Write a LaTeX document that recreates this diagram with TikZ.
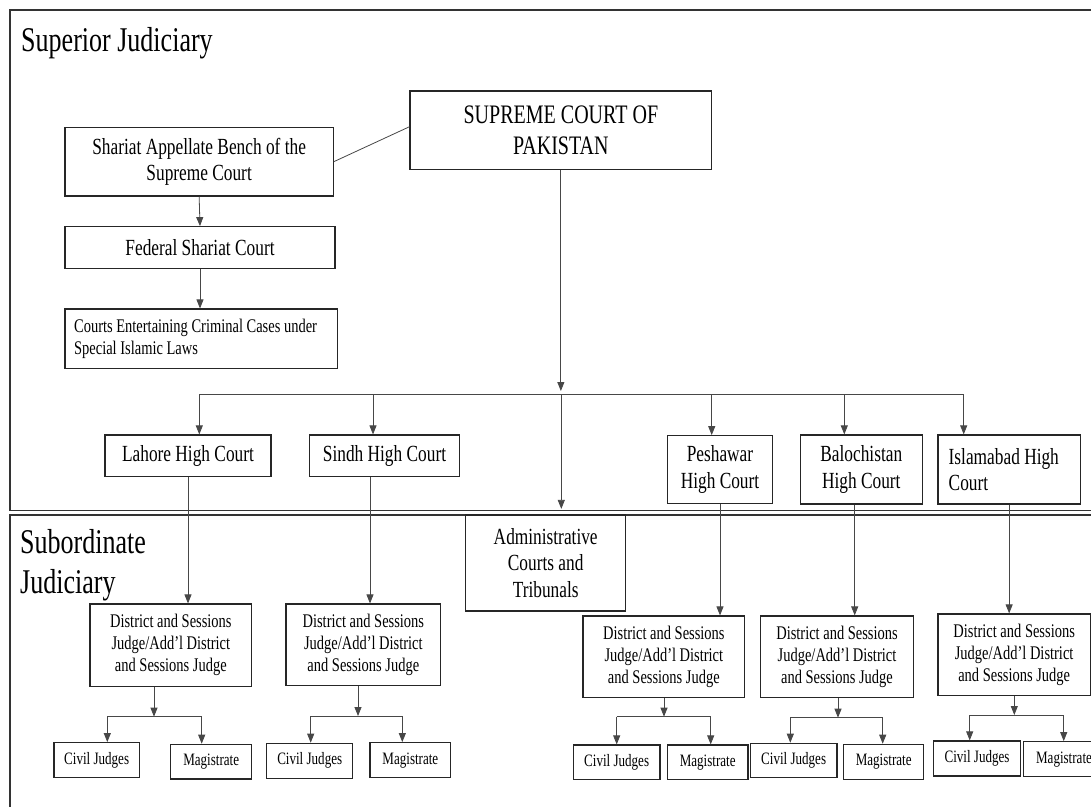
\documentclass[tikz,border=0pt]{standalone}
\usepackage{fontspec}
\setmainfont[FakeStretch=0.75]{Liberation Serif}
\usetikzlibrary{arrows.meta,positioning}

\begin{document}
\begin{tikzpicture}
  [x=1pt,y=-1pt,
  court/.style={rectangle,draw=black!85,line width=1.2pt,inner sep=0pt,align=center},
  ttl/.style={font=\fontsize{34.7pt}{40.3pt}\selectfont},
  lvla/.style={font=\fontsize{26.7pt}{31.7pt}\selectfont},
  lvlb/.style={font=\fontsize{23.1pt}{26.2pt}\selectfont},
  lvlc/.style={font=\fontsize{19.3pt}{22pt}\selectfont},
  lvld/.style={font=\fontsize{17.4pt}{19pt}\selectfont},
  conn/.style={draw=black!72,line width=0.8pt,-{Triangle[length=9pt,width=7pt]}},
  link/.style={draw=black!72,line width=0.8pt},
  frame/.style={draw=black!80,line width=1.5pt}]

  \fill[white] (0,0) rectangle (1091,806);
  \useasboundingbox (0,0) rectangle (1091,806);
  \clip (0,0) rectangle (1091,806);

  \draw[frame] (10,10) rectangle (1098,510.7);
  \draw[frame] (10,515) rectangle (1098,814);
  \node[ttl,anchor=base west,inner sep=0pt] (supj) at (21,51.7) {Superior Judiciary};
  \node[ttl,anchor=base west,inner sep=0pt,align=left] (subj) at (20,593.3) {Subordinate\\Judiciary};

  \node[court,lvla,minimum width=301.7pt,minimum height=78.3pt] (sc) at (560.85,130.15) {SUPREME COURT OF\\PAKISTAN};
  \node[court,lvlb,minimum width=268.3pt,minimum height=68.7pt] (sab) at (199.15,161.65) {Shariat Appellate Bench of the\\Supreme Court};
  \node[court,lvlb,minimum width=270pt,minimum height=41.6pt] (fsc) at (200,247.5) {Federal Shariat Court};
  \node[court,lvlc,minimum width=272.3pt,minimum height=59.3pt,text width=254pt,align=flush left] (cec) at (201.15,338.65) {Courts Entertaining Criminal Cases under\\Special Islamic Laws};

  \node[court,lvlb,minimum width=166pt,minimum height=41.7pt] (lhc) at (188,455.85) {Lahore High Court};
  \node[court,lvlb,minimum width=150.4pt,minimum height=41.7pt] (shc) at (384.5,455.85) {Sindh High Court};
  \node[court,lvlb,minimum width=105.4pt,minimum height=67.6pt] (phc) at (720,469.5) {Peshawar\\High Court};
  \node[court,lvlb,minimum width=122pt,minimum height=69pt] (bhc) at (861.3,469.5) {Balochistan\\High Court};
  \node[court,lvlb,minimum width=142.3pt,minimum height=69pt,text width=120.9pt,align=flush left] (ihc) at (1009.15,469.5) {Islamabad High\\Court};
  \node[court,lvlb,minimum width=160pt,minimum height=96pt] (atc) at (545.7,563) {Administrative\\Courts and\\Tribunals};

  \node[court,lvlc,minimum width=161.7pt,minimum height=82.7pt] (ldsj) at (170.85,645.35) {District and Sessions\\Judge/Add'l District\\and Sessions Judge};
  \node[court,lvlc,minimum width=154.7pt,minimum height=81.7pt] (sdsj) at (363.35,644.85) {District and Sessions\\Judge/Add'l District\\and Sessions Judge};
  \node[court,lvlc,minimum width=161.7pt,minimum height=81.7pt] (pdsj) at (663.85,656.85) {District and Sessions\\Judge/Add'l District\\and Sessions Judge};
  \node[court,lvlc,minimum width=153.4pt,minimum height=81.7pt] (bdsj) at (837,656.85) {District and Sessions\\Judge/Add'l District\\and Sessions Judge};
  \node[court,lvlc,minimum width=152.3pt,minimum height=81.7pt] (idsj) at (1014.15,654.85) {District and Sessions\\Judge/Add'l District\\and Sessions Judge};

  \node[court,lvld,minimum width=85.3pt,minimum height=34.6pt] (cj1) at (96.65,760) {Civil Judges};
  \node[court,lvld,minimum width=81pt,minimum height=34.7pt] (mg1) at (211.2,761.65) {Magistrate};
  \node[court,lvld,minimum width=86pt,minimum height=35pt] (cj2) at (309.7,760.8) {Civil Judges};
  \node[court,lvld,minimum width=80.7pt,minimum height=35pt] (mg2) at (410.35,760.2) {Magistrate};
  \node[court,lvld,minimum width=86.7pt,minimum height=34.3pt] (cj3) at (616.65,762.15) {Civil Judges};
  \node[court,lvld,minimum width=80.7pt,minimum height=34.3pt] (mg3) at (707.65,762.15) {Magistrate};
  \node[court,lvld,minimum width=86.7pt,minimum height=34.4pt] (cj4) at (793.65,760.5) {Civil Judges};
  \node[court,lvld,minimum width=80pt,minimum height=35pt] (mg4) at (883.7,761.8) {Magistrate};
  \node[court,lvld,minimum width=86.6pt,minimum height=35pt] (cj5) at (977,758.5) {Civil Judges};
  \node[court,lvld,minimum width=80.7pt,minimum height=35pt] (mg5) at (1064,759.2) {Magistrate};

  % superior courts
  \draw[link] (sab.east) -- ([yshift=3.4pt]sc.west);
  \draw[conn] (sab.south) -- (fsc.north);
  \draw[conn] (fsc.south) -- (fsc.south |- cec.north);

  \coordinate (bus) at (561.3,394);
  \coordinate (dl) at (199.3,394);
  \coordinate (ds) at (373,394);
  \coordinate (dp) at (711.7,394);
  \coordinate (db) at (844.3,394);
  \coordinate (di) at (963.7,394);
  \draw[conn,shorten >=3pt] (sc.south) -- (sc.south |- bus);
  \draw[link] (dl) -- (di);
  \draw[conn] (dl) -- (dl |- lhc.north);
  \draw[conn] (ds) -- (ds |- shc.north);
  \draw[conn] (dp) -- (dp |- phc.north);
  \draw[conn] (db) -- (db |- bhc.north);
  \draw[conn] (di) -- (di |- ihc.north);
  \draw[conn,shorten >=5.5pt] (bus) -- (bus |- atc.north);

  % high courts down to district level
  \coordinate (xs) at (370,0);
  \coordinate (xb) at (854.7,0);
  \draw[conn] (lhc.south) -- (lhc.south |- ldsj.north);
  \draw[conn] (shc.south -| xs) -- (sdsj.north -| xs);
  \draw[conn] (phc.south) -- (phc.south |- pdsj.north);
  \draw[conn] (bhc.south -| xb) -- (bdsj.north -| xb);
  \draw[conn] (ihc.south) -- (ihc.south |- idsj.north);

  % district level down to civil judges and magistrates
  \coordinate (jl) at (154,716.7);
  \coordinate (jl1) at (107.3,716.7);
  \coordinate (jl2) at (201.7,716.7);
  \draw[conn] (ldsj.south -| jl) -- (jl);
  \draw[link] (jl1) -- (jl2);
  \draw[conn] (jl1) -- (jl1 |- cj1.north);
  \draw[conn] (jl2) -- (jl2 |- mg1.north);

  \coordinate (js) at (358,716);
  \coordinate (js1) at (310.7,716);
  \coordinate (js2) at (402.3,716);
  \draw[conn] (sdsj.south -| js) -- (js);
  \draw[link] (js1) -- (js2);
  \draw[conn] (js1) -- (js1 |- cj2.north);
  \draw[conn] (js2) -- (js2 |- mg2.north);

  \coordinate (jp) at (664,716.7);
  \coordinate (jp1) at (616.7,716.7);
  \coordinate (jp2) at (710.7,716.7);
  \draw[conn] (pdsj.south -| jp) -- (jp);
  \draw[link] (jp1) -- (jp2);
  \draw[conn] (jp1) -- (jp1 |- cj3.north);
  \draw[conn] (jp2) -- (jp2 |- mg3.north);

  \coordinate (jb) at (838,717.7);
  \coordinate (jb1) at (790.3,717.7);
  \coordinate (jb2) at (882.7,717.7);
  \draw[conn] (bdsj.south -| jb) -- (jb);
  \draw[link] (jb1) -- (jb2);
  \draw[conn] (jb1) -- (jb1 |- cj4.north);
  \draw[conn] (jb2) -- (jb2 |- mg4.north);

  \coordinate (ji) at (1014.3,715);
  \coordinate (ji1) at (969.7,715);
  \coordinate (ji2) at (1063.7,715);
  \draw[conn] (idsj.south -| ji) -- (ji);
  \draw[link] (ji1) -- (ji2);
  \draw[conn] (ji1) -- (ji1 |- cj5.north);
  \draw[conn] (ji2) -- (ji2 |- mg5.north);

\end{tikzpicture}
\end{document}
